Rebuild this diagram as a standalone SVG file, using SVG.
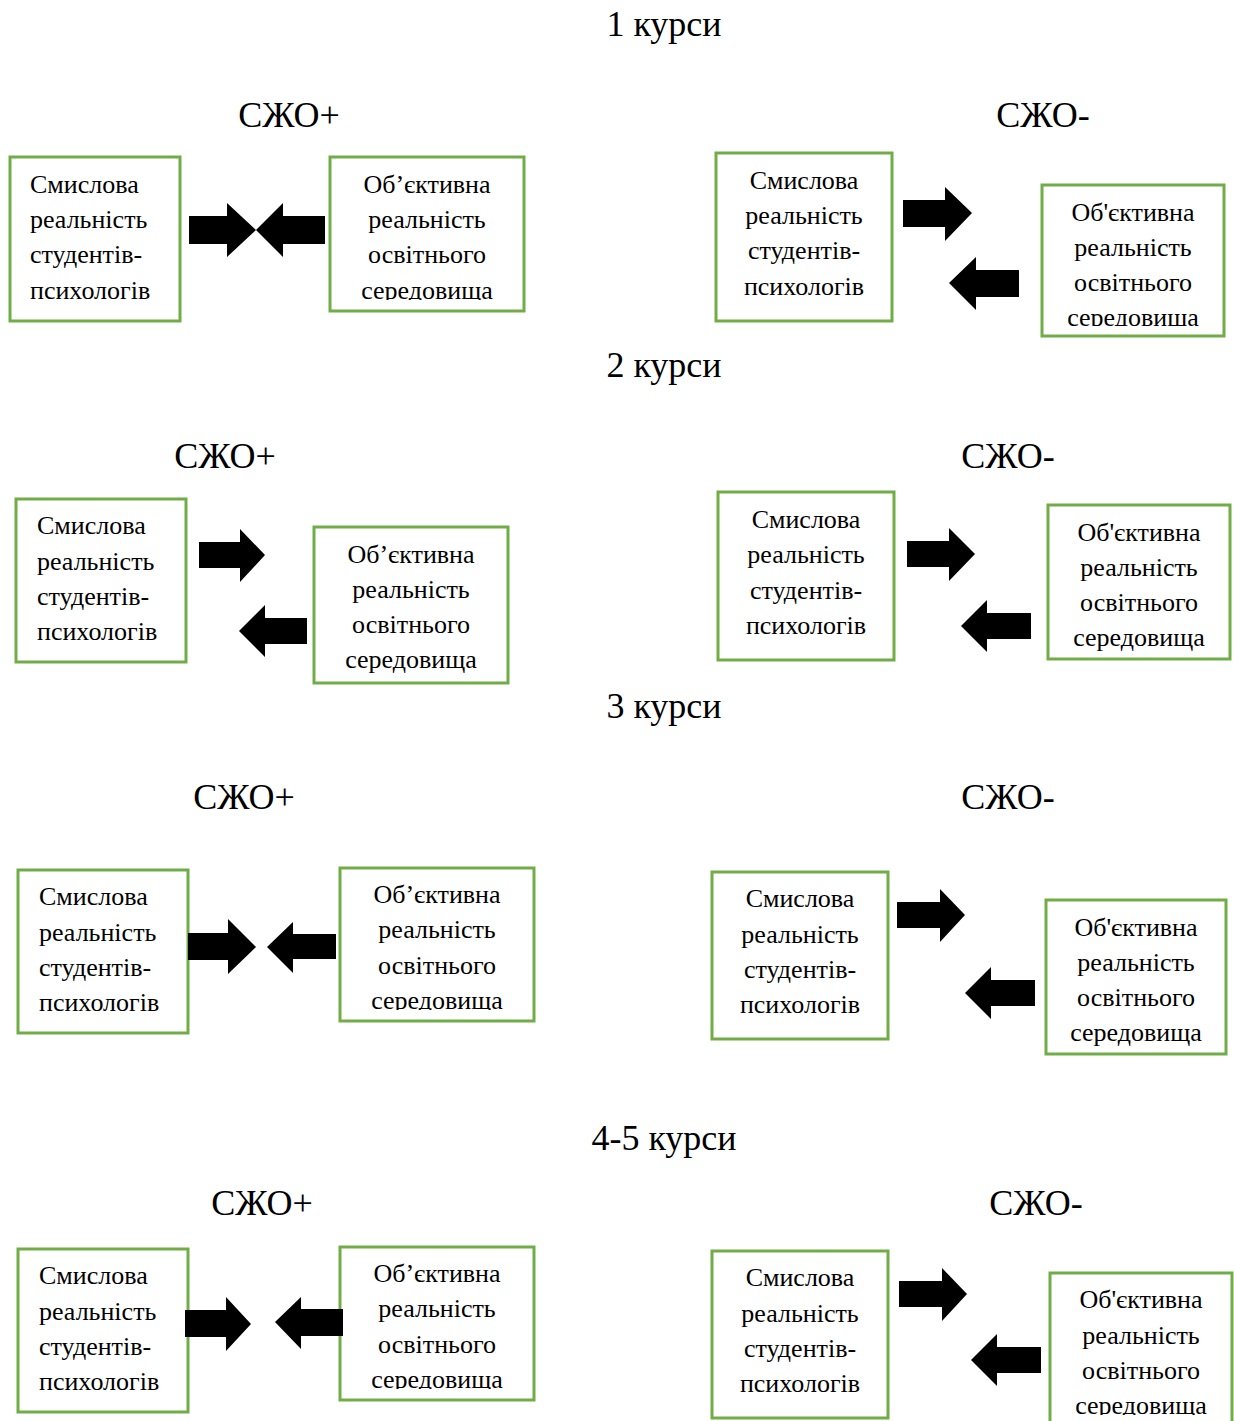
<svg xmlns="http://www.w3.org/2000/svg" width="1234" height="1421" viewBox="0 0 1234 1421">
<style>
  .bg { fill: #ffffff; }
  .box { fill: #ffffff; stroke: #70AD47; stroke-width: 3; }
  .t { font-family: "Liberation Serif", "Times New Roman", serif; font-size: 26px; fill: #000; }
  .c { text-anchor: middle; }
  .title { font-family: "Liberation Serif", "Times New Roman", serif; font-size: 36px; fill: #000; text-anchor: middle; }
  .arrow { fill: #000; stroke: none; }
</style>
<defs>
  <clipPath id="c1b"><rect x="330" y="157" width="194" height="143"/></clipPath>
  <clipPath id="c1d"><rect x="1042" y="185" width="182" height="141"/></clipPath>
  <clipPath id="c3b"><rect x="340" y="868" width="194" height="142"/></clipPath>
  <clipPath id="c4b"><rect x="340" y="1247" width="194" height="142"/></clipPath>
  <clipPath id="c4d"><rect x="1050" y="1273" width="182" height="142"/></clipPath>
</defs>
<rect class="bg" x="0" y="0" width="1234" height="1421"/>

<g id="titles">
  <text class="title" x="664" y="36">1 курси</text>
  <text class="title" x="289" y="127">СЖО+</text>
  <text class="title" x="1043" y="127">СЖО-</text>
  <text class="title" x="664" y="377">2 курси</text>
  <text class="title" x="225" y="468">СЖО+</text>
  <text class="title" x="1008" y="468">СЖО-</text>
  <text class="title" x="664" y="718">3 курси</text>
  <text class="title" x="244" y="809">СЖО+</text>
  <text class="title" x="1008" y="809">СЖО-</text>
  <text class="title" x="664" y="1150">4-5 курси</text>
  <text class="title" x="262" y="1215">СЖО+</text>
  <text class="title" x="1036" y="1215">СЖО-</text>
</g>

<!-- Row 1 -->
<g id="r1-left-sense">
  <rect class="box" x="10" y="157" width="170" height="164"/>
  <text class="t" x="30" y="193">Смислова</text>
  <text class="t" x="30" y="228">реальність</text>
  <text class="t" x="30" y="263">студентів-</text>
  <text class="t" x="30" y="299">психологів</text>
</g>
<g id="r1-left-obj">
  <rect class="box" x="330" y="157" width="194" height="154"/>
  <g clip-path="url(#c1b)">
    <text class="t c" x="427" y="193">Об’єктивна</text>
    <text class="t c" x="427" y="228">реальність</text>
    <text class="t c" x="427" y="263">освітнього</text>
    <text class="t c" x="427" y="299">середовища</text>
  </g>
</g>
<g id="r1-right-sense">
  <rect class="box" x="716" y="153" width="176" height="168"/>
  <text class="t c" x="804" y="189">Смислова</text>
  <text class="t c" x="804" y="224">реальність</text>
  <text class="t c" x="804" y="259">студентів-</text>
  <text class="t c" x="804" y="295">психологів</text>
</g>
<g id="r1-right-obj">
  <rect class="box" x="1042" y="185" width="182" height="151"/>
  <g clip-path="url(#c1d)">
    <text class="t c" x="1133" y="221">Об'єктивна</text>
    <text class="t c" x="1133" y="256">реальність</text>
    <text class="t c" x="1133" y="291">освітнього</text>
    <text class="t c" x="1133" y="326">середовища</text>
  </g>
</g>

<!-- Row 2 -->
<g id="r2-left-sense">
  <rect class="box" x="16" y="499" width="170" height="163"/>
  <text class="t" x="37" y="534">Смислова</text>
  <text class="t" x="37" y="570">реальність</text>
  <text class="t" x="37" y="605">студентів-</text>
  <text class="t" x="37" y="640">психологів</text>
</g>
<g id="r2-left-obj">
  <rect class="box" x="314" y="527" width="194" height="156"/>
  <text class="t c" x="411" y="563">Об’єктивна</text>
  <text class="t c" x="411" y="598">реальність</text>
  <text class="t c" x="411" y="633">освітнього</text>
  <text class="t c" x="411" y="668">середовища</text>
</g>
<g id="r2-right-sense">
  <rect class="box" x="718" y="492" width="176" height="168"/>
  <text class="t c" x="806" y="528">Смислова</text>
  <text class="t c" x="806" y="563">реальність</text>
  <text class="t c" x="806" y="599">студентів-</text>
  <text class="t c" x="806" y="634">психологів</text>
</g>
<g id="r2-right-obj">
  <rect class="box" x="1048" y="505" width="182" height="154"/>
  <text class="t c" x="1139" y="541">Об'єктивна</text>
  <text class="t c" x="1139" y="576">реальність</text>
  <text class="t c" x="1139" y="611">освітнього</text>
  <text class="t c" x="1139" y="646">середовища</text>
</g>

<!-- Row 3 -->
<g id="r3-left-sense">
  <rect class="box" x="18" y="870" width="170" height="163"/>
  <text class="t" x="39" y="905">Смислова</text>
  <text class="t" x="39" y="941">реальність</text>
  <text class="t" x="39" y="976">студентів-</text>
  <text class="t" x="39" y="1011">психологів</text>
</g>
<g id="r3-left-obj">
  <rect class="box" x="340" y="868" width="194" height="153"/>
  <g clip-path="url(#c3b)">
    <text class="t c" x="437" y="903">Об’єктивна</text>
    <text class="t c" x="437" y="938">реальність</text>
    <text class="t c" x="437" y="974">освітнього</text>
    <text class="t c" x="437" y="1009">середовища</text>
  </g>
</g>
<g id="r3-right-sense">
  <rect class="box" x="712" y="872" width="176" height="167"/>
  <text class="t c" x="800" y="907">Смислова</text>
  <text class="t c" x="800" y="943">реальність</text>
  <text class="t c" x="800" y="978">студентів-</text>
  <text class="t c" x="800" y="1013">психологів</text>
</g>
<g id="r3-right-obj">
  <rect class="box" x="1046" y="900" width="180" height="154"/>
  <text class="t c" x="1136" y="936">Об'єктивна</text>
  <text class="t c" x="1136" y="971">реальність</text>
  <text class="t c" x="1136" y="1006">освітнього</text>
  <text class="t c" x="1136" y="1041">середовища</text>
</g>

<!-- Row 4 -->
<g id="r4-left-sense">
  <rect class="box" x="18" y="1249" width="170" height="163"/>
  <text class="t" x="39" y="1284">Смислова</text>
  <text class="t" x="39" y="1320">реальність</text>
  <text class="t" x="39" y="1355">студентів-</text>
  <text class="t" x="39" y="1390">психологів</text>
</g>
<g id="r4-left-obj">
  <rect class="box" x="340" y="1247" width="194" height="153"/>
  <g clip-path="url(#c4b)">
    <text class="t c" x="437" y="1282">Об’єктивна</text>
    <text class="t c" x="437" y="1317">реальність</text>
    <text class="t c" x="437" y="1353">освітнього</text>
    <text class="t c" x="437" y="1388">середовища</text>
  </g>
</g>
<g id="r4-right-sense">
  <rect class="box" x="712" y="1251" width="176" height="167"/>
  <text class="t c" x="800" y="1286">Смислова</text>
  <text class="t c" x="800" y="1322">реальність</text>
  <text class="t c" x="800" y="1357">студентів-</text>
  <text class="t c" x="800" y="1392">психологів</text>
</g>
<g id="r4-right-obj">
  <rect class="box" x="1050" y="1273" width="182" height="150"/>
  <g clip-path="url(#c4d)">
    <text class="t c" x="1141" y="1308">Об'єктивна</text>
    <text class="t c" x="1141" y="1344">реальність</text>
    <text class="t c" x="1141" y="1379">освітнього</text>
    <text class="t c" x="1141" y="1414">середовища</text>
  </g>
</g>

<g id="connectors">
  <!-- Row 1 left: converging -->
  <polygon class="arrow" points="189,216 227,216 227,203 256,230 227,257 227,244 189,244"/>
  <polygon class="arrow" points="325,216 283,216 283,203 256,230 283,257 283,244 325,244"/>
  <!-- Row 1 right -->
  <polygon class="arrow" points="903,200 945,200 945,187 972,213 945,241 945,227 903,227"/>
  <polygon class="arrow" points="1019,270 976,270 976,257 949,283 976,310 976,297 1019,297"/>
  <!-- Row 2 left -->
  <polygon class="arrow" points="199,542 240,542 240,529 265,555 240,582 240,568 199,568"/>
  <polygon class="arrow" points="307,618 265,618 265,605 239,631 265,657 265,644 307,644"/>
  <!-- Row 2 right -->
  <polygon class="arrow" points="907,541 949,541 949,528 975,554 949,581 949,567 907,567"/>
  <polygon class="arrow" points="1031,613 987,613 987,600 961,626 987,652 987,639 1031,639"/>
  <!-- Row 3 left: converging -->
  <polygon class="arrow" points="188,933 228,933 228,919 256,947 228,974 228,960 188,960"/>
  <polygon class="arrow" points="336,934 293,934 293,922 267,947 293,973 293,959 336,959"/>
  <!-- Row 3 right -->
  <polygon class="arrow" points="897,902 940,902 940,889 965,915 940,942 940,928 897,928"/>
  <polygon class="arrow" points="1035,980 991,980 991,967 965,993 991,1019 991,1006 1035,1006"/>
  <!-- Row 4 left: converging -->
  <polygon class="arrow" points="185,1310 226,1310 226,1297 251,1324 226,1351 226,1337 185,1337"/>
  <polygon class="arrow" points="343,1309 301,1309 301,1297 275,1322 301,1349 301,1336 343,1336"/>
  <!-- Row 4 right -->
  <polygon class="arrow" points="899,1281 942,1281 942,1268 967,1294 942,1321 942,1307 899,1307"/>
  <polygon class="arrow" points="1041,1347 997,1347 997,1334 971,1360 997,1386 997,1373 1041,1373"/>
</g>
</svg>
